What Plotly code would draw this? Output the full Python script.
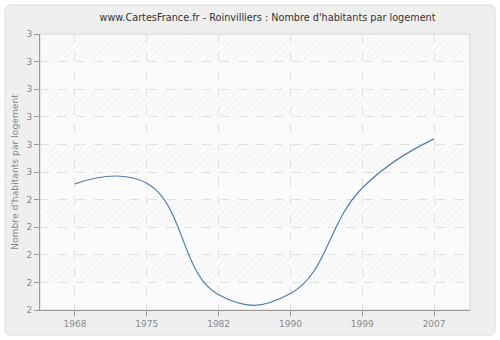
import plotly.graph_objects as go

years = ["1968", "1975", "1982", "1990", "1999", "2007"]
values = [2.457, 2.459, 2.055, 2.06, 2.442, 2.62]
y_ticks = [2.0, 2.1, 2.2, 2.3, 2.4, 2.5, 2.6, 2.7, 2.8, 2.9, 3.0]
y_tick_labels = ["2", "2", "2", "2", "2", "3", "3", "3", "3", "3", "3"]
title = "www.CartesFrance.fr - Roinvilliers : Nombre d'habitants par logement"
y_title = "Nombre d'habitants par logement"

L, R, T, B = 40, 30, 34, 30
W, H = 500, 340
pw, ph = W - L - R, H - T - B

fig = go.Figure()

# hatched alternating background bands (hidden linear x axis spanning the plot)
for i in range(len(y_ticks) - 2, -1, -2):
    lo, hi = y_ticks[i], y_ticks[i + 1]
    fig.add_trace(go.Scatter(
        x=[0, 1, 1, 0, 0], y=[lo, lo, hi, hi, lo], xaxis="x", yaxis="y",
        mode="lines", line=dict(width=0), fill="toself",
        fillcolor="rgba(0,0,0,0)",
        fillpattern=dict(shape="/", fgcolor="#e6e6e6", bgcolor="rgba(255,255,255,0)",
                         size=5, solidity=0.2),
        hoverinfo="skip", showlegend=False))

fig.add_trace(go.Scatter(
    x=years, y=values, mode="lines", xaxis="x2", yaxis="y",
    line=dict(color="#4f7bb0", width=1.2, shape="spline", smoothing=1.3),
    showlegend=False))


def px2x(px):
    return (px - L) / pw


def py2y(py):
    return (H - B - py) / ph


r = 6
a, b, c, d = 5, 495, 5, 335
path = (f"M {px2x(a+r)} {py2y(c)} L {px2x(b-r)} {py2y(c)} "
        f"Q {px2x(b)} {py2y(c)} {px2x(b)} {py2y(c+r)} "
        f"L {px2x(b)} {py2y(d-r)} Q {px2x(b)} {py2y(d)} {px2x(b-r)} {py2y(d)} "
        f"L {px2x(a+r)} {py2y(d)} Q {px2x(a)} {py2y(d)} {px2x(a)} {py2y(d-r)} "
        f"L {px2x(a)} {py2y(c+r)} Q {px2x(a)} {py2y(c)} {px2x(a+r)} {py2y(c)} Z "
        f"M 0 0 L 1 0 L 1 1 L 0 1 Z")
fig.add_shape(type="path", path=path, xref="paper", yref="paper", fillrule="evenodd",
              fillcolor="#efefef", line=dict(color="#dcdcdc", width=1), layer="below")
fig.add_shape(type="rect", x0=0, x1=1, y0=0, y1=1, xref="paper", yref="paper",
              line=dict(color="#e2e2e2", width=1), fillcolor="rgba(0,0,0,0)", layer="below")

tick_font = dict(family="DejaVu Sans", size=9, color="#8a8a8a")
grid = dict(showgrid=True, gridcolor="#e0e0e0", griddash="dash", gridwidth=1)
fig.update_layout(
    width=W, height=H,
    margin=dict(l=L, r=R, t=T, b=B),
    paper_bgcolor="white",
    plot_bgcolor="#fbfbfb",
    title=dict(text=title, x=0.535, xanchor="center", y=1 - 18 / H, yanchor="middle",
               font=dict(family="DejaVu Sans", size=9.7, color="#333333")),
    xaxis=dict(range=[0, 1], visible=False, showgrid=False, zeroline=False),
    xaxis2=dict(type="category", overlaying="x", anchor="y", side="bottom",
                range=[-0.487, 5.5], **grid,
                showline=True, linecolor="#999999", linewidth=1,
                ticks="outside", ticklen=5, tickcolor="#999999",
                tickfont=tick_font, zeroline=False),
    yaxis=dict(range=[2.0, 3.0], tickvals=y_ticks, ticktext=y_tick_labels, **grid,
               showline=True, linecolor="#999999", linewidth=1,
               ticks="outside", ticklen=5, tickcolor="#999999",
               tickfont=tick_font, zeroline=False,
               title=dict(text=y_title, font=dict(family="DejaVu Sans", size=9.2, color="#8a8a8a"),
                          standoff=6)),
)

fig.write_html("out.html")
